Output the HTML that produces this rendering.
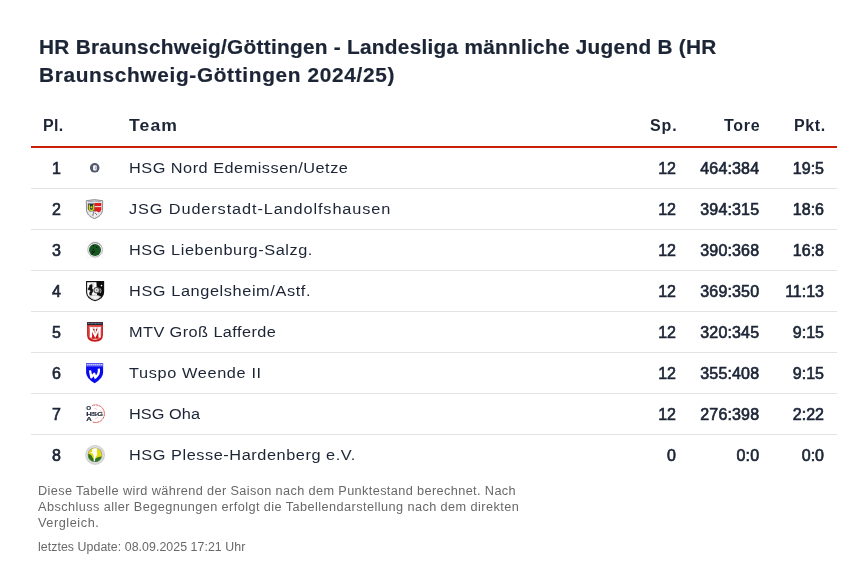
<!DOCTYPE html>
<html><head><meta charset="utf-8">
<style>
*{margin:0;padding:0;box-sizing:border-box}
html,body{width:867px;height:571px;background:#fff;overflow:hidden}
body{font-family:"Liberation Sans",sans-serif;color:#1c2536;position:relative}
.t{position:absolute;left:39px;font-size:20px;line-height:28px;font-weight:bold;color:#1c2536;white-space:nowrap;-webkit-text-stroke:0.2px #1c2536;transform:scaleX(1.04);transform-origin:0 0}
.hd{position:absolute;top:117px;font-size:16px;font-weight:bold;white-space:nowrap;line-height:normal}
.red{position:absolute;left:31px;top:146px;width:806px;height:2px;background:#c91f06}
.row{position:absolute;left:31px;width:806px;height:41px;border-bottom:1px solid #e3e3e3}
.row span{position:absolute;top:0;line-height:41px;font-size:16px;white-space:nowrap}
.n{-webkit-text-stroke:0.65px #1c2536}
.pl{left:0;width:30px;text-align:right}
.row span.nm{left:98px;font-size:15.4px;top:-1px;transform:scaleX(1.06);transform-origin:0 50%}
.sp{right:161px;text-align:right}
.to{right:77.8px;text-align:right;letter-spacing:0.15px}
.pk{right:13px;text-align:right}
.lg{position:absolute;left:84px;width:22px;height:22px}
.ft{position:absolute;left:38.4px;font-size:12px;line-height:16px;color:#686868;white-space:nowrap;transform-origin:0 0}
.t,.hd,.row,.ft{will-change:transform}
</style></head><body>
<div class="t" style="top:33px;letter-spacing:0.26px">HR Braunschweig/Göttingen - Landesliga männliche Jugend B (HR</div>
<div class="t" style="top:61px;letter-spacing:0.65px">Braunschweig-Göttingen 2024/25)</div>
<div class="hd" style="left:43px;letter-spacing:0.3px">Pl.</div>
<div class="hd" style="left:129px;letter-spacing:1px;transform:scaleX(1.1);transform-origin:0 0">Team</div>
<div class="hd" style="right:189px;letter-spacing:0.9px">Sp.</div>
<div class="hd" style="right:107px;letter-spacing:0.7px">Tore</div>
<div class="hd" style="right:41.5px;letter-spacing:0.6px">Pkt.</div>
<div class="red"></div>

<div class="row" style="top:148px"><span class="pl n">1</span><span class="nm" style="letter-spacing:0.46px">HSG Nord Edemissen/Uetze</span><span class="sp n">12</span><span class="to n">464:384</span><span class="pk n">19:5</span></div>
<div class="row" style="top:189px"><span class="pl n">2</span><span class="nm" style="letter-spacing:0.83px">JSG Duderstadt-Landolfshausen</span><span class="sp n">12</span><span class="to n">394:315</span><span class="pk n">18:6</span></div>
<div class="row" style="top:230px"><span class="pl n">3</span><span class="nm" style="letter-spacing:0.52px">HSG Liebenburg-Salzg.</span><span class="sp n">12</span><span class="to n">390:368</span><span class="pk n">16:8</span></div>
<div class="row" style="top:271px"><span class="pl n">4</span><span class="nm" style="letter-spacing:0.56px">HSG Langelsheim/Astf.</span><span class="sp n">12</span><span class="to n">369:350</span><span class="pk n">11:13</span></div>
<div class="row" style="top:312px"><span class="pl n">5</span><span class="nm" style="letter-spacing:0.39px">MTV Groß Lafferde</span><span class="sp n">12</span><span class="to n">320:345</span><span class="pk n">9:15</span></div>
<div class="row" style="top:353px"><span class="pl n">6</span><span class="nm" style="letter-spacing:0.59px">Tuspo Weende II</span><span class="sp n">12</span><span class="to n">355:408</span><span class="pk n">9:15</span></div>
<div class="row" style="top:394px"><span class="pl n">7</span><span class="nm" style="letter-spacing:0.05px">HSG Oha</span><span class="sp n">12</span><span class="to n">276:398</span><span class="pk n">2:22</span></div>
<div class="row" style="top:435px;border-bottom:none"><span class="pl n">8</span><span class="nm" style="letter-spacing:0.52px">HSG Plesse-Hardenberg e.V.</span><span class="sp n">0</span><span class="to n">0:0</span><span class="pk n">0:0</span></div>

<div class="ft" style="top:483px;letter-spacing:0.355px;transform:scaleX(1.06)">Diese Tabelle wird während der Saison nach dem Punktestand berechnet. Nach</div>
<div class="ft" style="top:499px;letter-spacing:0.397px;transform:scaleX(1.06)">Abschluss aller Begegnungen erfolgt die Tabellendarstellung nach dem direkten</div>
<div class="ft" style="top:515px;letter-spacing:0.52px;transform:scaleX(1.06)">Vergleich.</div>
<div class="ft" style="top:539px;letter-spacing:0.05px;left:37.6px;transform:scaleX(1.03)">letztes Update: 08.09.2025 17:21 Uhr</div>

<svg class="lg" style="top:158px" viewBox="0 0 22 22"><circle cx="10.7" cy="9.8" r="4.8" fill="#535a6b"/><rect x="9.1" y="7.3" width="3.6" height="5.3" rx="1.1" fill="#fff"/><rect x="10.9" y="8.3" width="0.9" height="3.2" rx="0.4" fill="#a4a7c4"/><circle cx="12" cy="7.8" r="0.45" fill="#9496f2"/><circle cx="11.2" cy="10.5" r="0.45" fill="#9496f2"/></svg>
<svg class="lg" style="top:199px" viewBox="0 0 22 22"><path d="M2.3,1.7 Q10.5,-0.4 18.7,1.7 L18.5,11.5 Q17.8,17 10.5,19.7 Q3.2,17 2.5,11.5 Z" fill="#e4e4e6" stroke="#8a8b92" stroke-width="1"/><path d="M4.2,2.7 Q10.5,1.3 16.8,2.7" stroke="#9b9ca2" stroke-width="0.9" fill="none"/><path d="M3.9,4.6 H10.6 V12.6 H6 Q4.1,11 3.9,9.5 Z" fill="#283250"/><path d="M5.3,5.4 V9.2 Q5.3,11.4 7.4,11.4 Q9.5,11.4 9.5,9.2 V5.4" stroke="#c6d418" stroke-width="1.4" fill="none"/><circle cx="7.4" cy="8.3" r="1.1" fill="#c6d418"/><path d="M10.6,4.1 H17.3 V10.5 Q16.9,12.6 15,13.4 L12.5,12.2 L10.6,13 Z" fill="#df1d1c"/><rect x="10.6" y="7.1" width="6.7" height="1" fill="#eee"/><path d="M6.5,12.8 L10,12.6 L14.5,13.6 Q12.5,17 10.5,18 Q8,16.5 6.5,12.8 Z" fill="#f4f4f4"/><path d="M9.6,12.6 L8.8,17 M10.6,14 Q12.2,14.2 12.8,16" stroke="#666" stroke-width="0.9" fill="none"/></svg>
<svg class="lg" style="top:240px" viewBox="0 0 22 22"><rect x="2.4" y="1.2" width="17.4" height="17.4" fill="#fbfbfb"/><circle cx="11.1" cy="9.8" r="7.3" fill="#f3f3f5" stroke="#b2b2ba" stroke-width="1"/><path d="M5.2,5.6 A7.3,7.3 0 0 1 17,5.6" stroke="#999" stroke-width="1" fill="none"/><circle cx="11" cy="9.9" r="6" fill="#175620"/><g fill="#000"><circle cx="9.4" cy="5.6" r="0.6"/><circle cx="12.5" cy="7.3" r="0.6"/><circle cx="9.4" cy="9.4" r="0.6"/><circle cx="8.3" cy="11.3" r="0.6"/><circle cx="10.4" cy="11.3" r="0.6"/><circle cx="9.4" cy="12.4" r="0.6"/><circle cx="8.3" cy="13.5" r="0.6"/></g></svg>
<svg class="lg" style="top:281px" viewBox="0 0 22 22"><path d="M2.6,0.6 H19.6 V11 Q19.6,17.3 11.1,19.6 Q2.6,17.3 2.6,11 Z" fill="#fff" stroke="#111" stroke-width="1.1"/><path d="M12.4,0.6 H19.6 V11 Q19.6,14.5 17.5,16 L13,14.5 Z" fill="#0c0c0c"/><rect x="7.8" y="1.2" width="2" height="4.6" fill="#d8d8d8"/><path d="M7.6,3.2 Q5,3.8 5.4,6 Q3.8,6.8 4.1,8.8 Q6.2,8.6 6.6,10 Q4.8,11.8 5.9,14.3 L7.8,14.8 Q7,12.4 8.8,10.8 Q9.7,8.6 7.9,7.3 Q9,5.4 7.6,3.2 Z" fill="#111" stroke="#111" stroke-width="0.5"/><circle cx="12.7" cy="9.2" r="2.7" fill="#e8e8e8" stroke="#555" stroke-width="1.1"/><circle cx="12.7" cy="9.2" r="0.9" fill="#888"/><circle cx="17.5" cy="4.6" r="0.8" fill="#fff"/><path d="M16.2,7.5 Q18,9.5 16.2,12" stroke="#ccc" stroke-width="0.9" fill="none"/><path d="M5.5,15 Q11,12.5 16.5,15.5 Q14,18.5 11.1,19 Q7.5,18.2 5.5,15 Z" fill="#f2f2f2" stroke="#888" stroke-width="0.5"/></svg>
<svg class="lg" style="top:322px" viewBox="0 0 22 22"><path d="M3.1,0.2 H18.9 V13 Q18.9,19.8 11,19.8 Q3.1,19.8 3.1,13 Z" fill="#c91515"/><rect x="3.1" y="0.2" width="15.8" height="2.8" fill="#222a38"/><path d="M4,1.5 H18" stroke="#9aa" stroke-width="0.6" stroke-dasharray="1 0.4"/><path d="M5.1,4.1 H16.9 V13 Q16.9,17.4 11,17.4 Q5.1,17.4 5.1,13 Z" fill="none" stroke="#f2cccc" stroke-width="0.6"/><g fill="#fff"><rect x="5.8" y="5.2" width="10.8" height="1.5"/><rect x="5.9" y="5.2" width="2.2" height="10.4"/><rect x="14.4" y="5.2" width="2.2" height="10.4"/><rect x="10.5" y="5.5" width="1.4" height="5"/></g><path d="M7.4,6.4 L11.2,13.8 L15,6.4" stroke="#fff" stroke-width="2" fill="none" stroke-linejoin="miter"/><rect x="9.4" y="16.7" width="3.2" height="1.3" fill="#f0b0b0"/></svg>
<svg class="lg" style="top:363px" viewBox="0 0 22 22"><path d="M2.1,0.3 H19.1 V9.5 Q19.1,15.2 10.6,20.3 Q2.1,15.2 2.1,9.5 Z" fill="#0a0aee"/><rect x="2.1" y="0.3" width="17" height="3.3" fill="#5c5cf3"/><path d="M2.8,1.8 H18.4" stroke="#e6e6fd" stroke-width="1.1" stroke-dasharray="1.6 0.4"/><path d="M6,7.4 L7.3,14.3 L10.3,10.8 L11.3,14.6 Q15.8,11 14.8,5.6" stroke="#fff" stroke-width="2.3" fill="none" stroke-linejoin="round"/></svg>
<svg class="lg" style="top:404px" viewBox="0 0 22 22"><path d="M8.2,1.6 A8.8,8.8 0 1 1 8.4,17.9" fill="none" stroke="#df4446" stroke-width="0.85" stroke-dasharray="3 0.4"/><path d="M10,4 L13,5.5 M11,15.2 L14,13 M16,6 L18,9" stroke="#f0a0a0" stroke-width="0.6"/><g font-family="Liberation Sans" font-weight="bold" font-size="5" fill="#1d2436" stroke="#1d2436" stroke-width="0.15"><text x="2.2" y="6.3" textLength="4.9" lengthAdjust="spacingAndGlyphs">O</text><text x="2.2" y="11.7" textLength="17" lengthAdjust="spacingAndGlyphs">HSG</text><text x="2.2" y="16.7" textLength="5.5" lengthAdjust="spacingAndGlyphs">A</text></g></svg>
<svg class="lg" style="top:445px" viewBox="0 0 22 22"><circle cx="11.1" cy="9.9" r="9.5" fill="#d2d2d4" stroke="#c0c0c4" stroke-width="0.6"/><circle cx="11.1" cy="9.9" r="8.3" fill="none" stroke="#f2f2f2" stroke-width="1" stroke-dasharray="0.7 0.7"/><circle cx="11" cy="9.9" r="7.2" fill="#8a8a9a"/><circle cx="11" cy="9.9" r="6.8" fill="#e4dc10"/><path d="M4.2,9 Q6,8.6 7.5,10.5 Q8.5,13 10,14 L12,13.2 Q14,11.6 17.7,11.4 A6.8,6.8 0 0 1 4.2,9 Z" fill="#2e7526"/><path d="M8.2,4.2 L10.6,3.2 L13.4,3.4 L12.8,6.4 L13.2,9.6 L11.4,12.4 L10.9,16.6 L9.6,16.4 L9.8,11.6 L8.8,8.4 L6.2,7.8 L8.4,6.4 Z" fill="#fff"/></svg>
</body></html>
